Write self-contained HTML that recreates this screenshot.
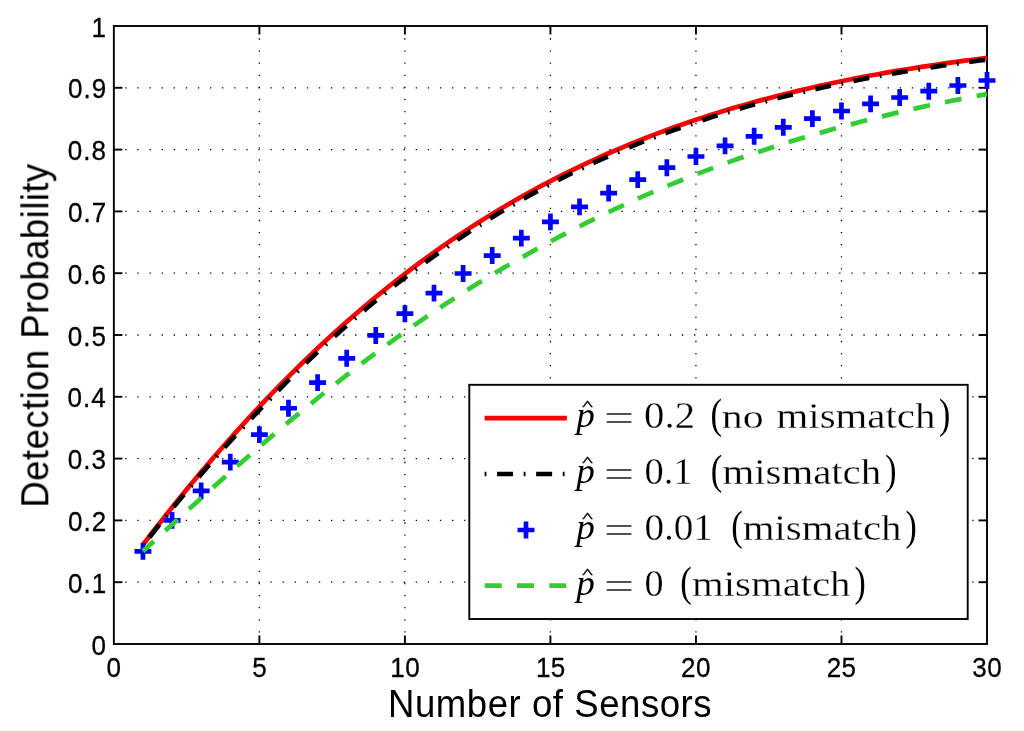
<!DOCTYPE html>
<html lang="en"><head><meta charset="utf-8"><title>Detection Probability vs Number of Sensors</title>
<style>html,body{margin:0;padding:0;background:#fff;}body{width:1024px;height:731px;overflow:hidden;}svg{display:block;}.t{font-family:"Liberation Sans",Arial,Helvetica,sans-serif;fill:#000;}.s{font-family:"Liberation Serif","Times New Roman",serif;fill:#000;}</style></head><body>
<svg width="1024" height="731" viewBox="0 0 1024 731">
<rect x="0" y="0" width="1024" height="731" fill="#fff"/>
<defs><filter id="gs" filterUnits="userSpaceOnUse" x="0" y="0" width="1024" height="731" color-interpolation-filters="sRGB"><feColorMatrix type="saturate" values="0"/></filter></defs>
<g stroke="#000" stroke-width="1.30" stroke-dasharray="1.30 10.80" stroke-dashoffset="0.65" fill="none"><line x1="259.38" y1="26.90" x2="259.38" y2="644.00"/><line x1="404.90" y1="26.90" x2="404.90" y2="644.00"/><line x1="550.42" y1="26.90" x2="550.42" y2="644.00"/><line x1="695.95" y1="26.90" x2="695.95" y2="644.00"/><line x1="841.48" y1="26.90" x2="841.48" y2="644.00"/><line x1="113.85" y1="582.20" x2="987.00" y2="582.20"/><line x1="113.85" y1="520.40" x2="987.00" y2="520.40"/><line x1="113.85" y1="458.60" x2="987.00" y2="458.60"/><line x1="113.85" y1="396.80" x2="987.00" y2="396.80"/><line x1="113.85" y1="335.00" x2="987.00" y2="335.00"/><line x1="113.85" y1="273.20" x2="987.00" y2="273.20"/><line x1="113.85" y1="211.40" x2="987.00" y2="211.40"/><line x1="113.85" y1="149.60" x2="987.00" y2="149.60"/><line x1="113.85" y1="87.80" x2="987.00" y2="87.80"/></g>
<g stroke="#000" stroke-width="1.90" fill="none"><line x1="259.38" y1="644.00" x2="259.38" y2="635.50"/><line x1="259.38" y1="26.00" x2="259.38" y2="34.50"/><line x1="404.90" y1="644.00" x2="404.90" y2="635.50"/><line x1="404.90" y1="26.00" x2="404.90" y2="34.50"/><line x1="550.42" y1="644.00" x2="550.42" y2="635.50"/><line x1="550.42" y1="26.00" x2="550.42" y2="34.50"/><line x1="695.95" y1="644.00" x2="695.95" y2="635.50"/><line x1="695.95" y1="26.00" x2="695.95" y2="34.50"/><line x1="841.48" y1="644.00" x2="841.48" y2="635.50"/><line x1="841.48" y1="26.00" x2="841.48" y2="34.50"/><line x1="113.85" y1="582.20" x2="122.35" y2="582.20"/><line x1="987.00" y1="582.20" x2="978.50" y2="582.20"/><line x1="113.85" y1="520.40" x2="122.35" y2="520.40"/><line x1="987.00" y1="520.40" x2="978.50" y2="520.40"/><line x1="113.85" y1="458.60" x2="122.35" y2="458.60"/><line x1="987.00" y1="458.60" x2="978.50" y2="458.60"/><line x1="113.85" y1="396.80" x2="122.35" y2="396.80"/><line x1="987.00" y1="396.80" x2="978.50" y2="396.80"/><line x1="113.85" y1="335.00" x2="122.35" y2="335.00"/><line x1="987.00" y1="335.00" x2="978.50" y2="335.00"/><line x1="113.85" y1="273.20" x2="122.35" y2="273.20"/><line x1="987.00" y1="273.20" x2="978.50" y2="273.20"/><line x1="113.85" y1="211.40" x2="122.35" y2="211.40"/><line x1="987.00" y1="211.40" x2="978.50" y2="211.40"/><line x1="113.85" y1="149.60" x2="122.35" y2="149.60"/><line x1="987.00" y1="149.60" x2="978.50" y2="149.60"/><line x1="113.85" y1="87.80" x2="122.35" y2="87.80"/><line x1="987.00" y1="87.80" x2="978.50" y2="87.80"/></g>
<rect x="113.85" y="26.00" width="873.15" height="618.00" fill="none" stroke="#000" stroke-width="1.90"/>
<path d="M142.95 544.71 L150.23 535.25 L157.51 525.90 L164.78 516.66 L172.06 507.53 L179.34 498.50 L186.61 489.59 L193.89 480.79 L201.16 472.09 L208.44 463.52 L215.72 455.05 L222.99 446.69 L230.27 438.45 L237.55 430.32 L244.82 422.30 L252.10 414.40 L259.38 406.61 L266.65 398.93 L273.93 391.36 L281.20 383.90 L288.48 376.56 L295.76 369.33 L303.03 362.21 L310.31 355.20 L317.59 348.30 L324.86 341.51 L332.14 334.83 L339.41 328.25 L346.69 321.79 L353.97 315.43 L361.24 309.18 L368.52 303.03 L375.79 296.99 L383.07 291.06 L390.35 285.22 L397.62 279.49 L404.90 273.86 L412.18 268.34 L419.45 262.91 L426.73 257.58 L434.00 252.34 L441.28 247.21 L448.56 242.17 L455.83 237.22 L463.11 232.37 L470.39 227.61 L477.66 222.94 L484.94 218.37 L492.21 213.88 L499.49 209.48 L506.77 205.17 L514.04 200.94 L521.32 196.80 L528.60 192.74 L535.87 188.76 L543.15 184.86 L550.42 181.05 L557.70 177.31 L564.98 173.65 L572.25 170.07 L579.53 166.57 L586.81 163.13 L594.08 159.78 L601.36 156.49 L608.63 153.27 L615.91 150.13 L623.19 147.05 L630.46 144.04 L637.74 141.09 L645.02 138.21 L652.29 135.40 L659.57 132.65 L666.85 129.96 L674.12 127.33 L681.40 124.76 L688.67 122.25 L695.95 119.79 L703.23 117.40 L710.50 115.05 L717.78 112.77 L725.05 110.53 L732.33 108.35 L739.61 106.22 L746.88 104.14 L754.16 102.11 L761.44 100.13 L768.71 98.19 L775.99 96.30 L783.27 94.46 L790.54 92.66 L797.82 90.90 L805.09 89.19 L812.37 87.52 L819.65 85.89 L826.92 84.30 L834.20 82.75 L841.48 81.24 L848.75 79.77 L856.03 78.33 L863.30 76.93 L870.58 75.56 L877.86 74.23 L885.13 72.93 L892.41 71.67 L899.68 70.43 L906.96 69.23 L914.24 68.06 L921.51 66.92 L928.79 65.81 L936.07 64.72 L943.34 63.67 L950.62 62.64 L957.89 61.64 L965.17 60.66 L972.45 59.71 L979.72 58.79 L987.00 57.89" fill="none" stroke="#f00" stroke-width="4.70" stroke-linejoin="round"/>
<path d="M142.95 545.64 L150.23 536.29 L157.51 527.06 L164.78 517.95 L172.06 508.95 L179.34 500.07 L186.61 491.30 L193.89 482.66 L201.16 474.13 L208.44 465.71 L215.72 457.40 L222.99 449.21 L230.27 441.16 L237.55 433.23 L244.82 425.40 L252.10 417.67 L259.38 410.03 L266.65 402.46 L273.93 394.94 L281.20 387.51 L288.48 380.19 L295.76 372.97 L303.03 365.87 L310.31 358.87 L317.59 351.99 L324.86 345.21 L332.14 338.54 L339.41 331.98 L346.69 325.52 L353.97 319.17 L361.24 312.93 L368.52 306.79 L375.79 300.76 L383.07 294.82 L390.35 288.99 L397.62 283.26 L404.90 277.63 L412.18 272.10 L419.45 266.66 L426.73 261.31 L434.00 256.05 L441.28 250.89 L448.56 245.81 L455.83 240.83 L463.11 235.93 L470.39 231.13 L477.66 226.41 L484.94 221.79 L492.21 217.25 L499.49 212.80 L506.77 208.43 L514.04 204.16 L521.32 199.97 L528.60 195.87 L535.87 191.85 L543.15 187.92 L550.42 184.08 L557.70 180.31 L564.98 176.63 L572.25 173.02 L579.53 169.49 L586.81 166.04 L594.08 162.66 L601.36 159.35 L608.63 156.11 L615.91 152.94 L623.19 149.85 L630.46 146.82 L637.74 143.85 L645.02 140.95 L652.29 138.12 L659.57 135.35 L666.85 132.64 L674.12 129.99 L681.40 127.40 L688.67 124.86 L695.95 122.39 L703.23 119.97 L710.50 117.61 L717.78 115.30 L725.05 113.04 L732.33 110.84 L739.61 108.69 L746.88 106.58 L754.16 104.53 L761.44 102.53 L768.71 100.57 L775.99 98.66 L783.27 96.80 L790.54 94.97 L797.82 93.20 L805.09 91.46 L812.37 89.77 L819.65 88.12 L826.92 86.51 L834.20 84.94 L841.48 83.40 L848.75 81.91 L856.03 80.45 L863.30 79.03 L870.58 77.64 L877.86 76.28 L885.13 74.96 L892.41 73.68 L899.68 72.42 L906.96 71.20 L914.24 70.01 L921.51 68.84 L928.79 67.71 L936.07 66.60 L943.34 65.53 L950.62 64.48 L957.89 63.46 L965.17 62.46 L972.45 61.49 L979.72 60.54 L987.00 59.62" fill="none" stroke="#000" stroke-width="4.70" stroke-dasharray="1.8 10.65 16 10.63" stroke-dashoffset="2" stroke-linejoin="round"/>
<g stroke="#00f" stroke-width="4.70" fill="none"><path d="M134.50 551.30H151.40M142.95 542.85V559.75"/><path d="M163.61 520.40H180.51M172.06 511.95V528.85"/><path d="M192.72 490.92H209.61M201.16 482.47V499.37"/><path d="M221.82 462.12H238.72M230.27 453.67V470.57"/><path d="M250.93 434.62H267.82M259.38 426.17V443.07"/><path d="M280.03 408.23H296.93M288.48 399.78V416.68"/><path d="M309.14 382.59H326.04M317.59 374.14V391.04"/><path d="M338.24 358.30H355.14M346.69 349.85V366.75"/><path d="M367.34 335.43H384.24M375.79 326.98V343.88"/><path d="M396.45 313.68H413.35M404.90 305.23V322.13"/><path d="M425.56 293.10H442.45M434.00 284.65V301.55"/><path d="M454.66 273.51H471.56M463.11 265.06V281.96"/><path d="M483.76 255.53H500.66M492.21 247.08V263.98"/><path d="M512.87 238.10H529.77M521.32 229.65V246.55"/><path d="M541.97 221.91H558.88M550.42 213.46V230.36"/><path d="M571.08 206.83H587.98M579.53 198.38V215.28"/><path d="M600.18 193.11H617.09M608.63 184.66V201.56"/><path d="M629.29 179.63H646.19M637.74 171.18V188.08"/><path d="M658.39 167.71H675.30M666.85 159.26V176.16"/><path d="M687.50 156.52H704.40M695.95 148.07V164.97"/><path d="M716.60 145.89H733.50M725.05 137.44V154.34"/><path d="M745.71 136.31H762.61M754.16 127.86V144.76"/><path d="M774.82 127.29H791.72M783.27 118.84V135.74"/><path d="M803.92 118.58H820.82M812.37 110.13V127.03"/><path d="M833.02 110.98H849.93M841.48 102.53V119.43"/><path d="M862.13 103.87H879.03M870.58 95.42V112.32"/><path d="M891.23 97.50H908.13M899.68 89.05V105.95"/><path d="M920.34 91.20H937.24M928.79 82.75V99.65"/><path d="M949.44 85.51H966.35M957.89 77.06V93.96"/><path d="M978.55 80.51H995.45M987.00 72.06V88.96"/></g>
<path d="M142.95 551.27 L150.23 544.56 L157.51 537.87 L164.78 531.20 L172.06 524.54 L179.34 517.90 L186.61 511.29 L193.89 504.70 L201.16 498.13 L208.44 491.60 L215.72 485.09 L222.99 478.62 L230.27 472.19 L237.55 465.78 L244.82 459.42 L252.10 453.10 L259.38 446.82 L266.65 440.58 L273.93 434.39 L281.20 428.24 L288.48 422.14 L295.76 416.09 L303.03 410.08 L310.31 404.13 L317.59 398.23 L324.86 392.39 L332.14 386.60 L339.41 380.86 L346.69 375.18 L353.97 369.55 L361.24 363.98 L368.52 358.47 L375.79 353.02 L383.07 347.63 L390.35 342.30 L397.62 337.03 L404.90 331.81 L412.18 326.67 L419.45 321.60 L426.73 316.60 L434.00 311.67 L441.28 306.81 L448.56 302.02 L455.83 297.30 L463.11 292.65 L470.39 288.06 L477.66 283.54 L484.94 279.08 L492.21 274.68 L499.49 270.34 L506.77 266.07 L514.04 261.85 L521.32 257.68 L528.60 253.58 L535.87 249.52 L543.15 245.52 L550.42 241.57 L557.70 237.68 L564.98 233.84 L572.25 230.07 L579.53 226.35 L586.81 222.69 L594.08 219.09 L601.36 215.55 L608.63 212.06 L615.91 208.63 L623.19 205.26 L630.46 201.94 L637.74 198.68 L645.02 195.47 L652.29 192.31 L659.57 189.21 L666.85 186.15 L674.12 183.15 L681.40 180.20 L688.67 177.30 L695.95 174.45 L703.23 171.65 L710.50 168.90 L717.78 166.19 L725.05 163.53 L732.33 160.91 L739.61 158.34 L746.88 155.82 L754.16 153.34 L761.44 150.90 L768.71 148.51 L775.99 146.16 L783.27 143.85 L790.54 141.59 L797.82 139.36 L805.09 137.18 L812.37 135.04 L819.65 132.94 L826.92 130.87 L834.20 128.85 L841.48 126.87 L848.75 124.91 L856.03 122.99 L863.30 121.10 L870.58 119.24 L877.86 117.41 L885.13 115.61 L892.41 113.85 L899.68 112.12 L906.96 110.43 L914.24 108.77 L921.51 107.15 L928.79 105.57 L936.07 104.03 L943.34 102.52 L950.62 101.04 L957.89 99.59 L965.17 98.17 L972.45 96.79 L979.72 95.43 L987.00 94.10" fill="none" stroke="#33cc33" stroke-width="4.70" stroke-dasharray="16.9 15.35" stroke-dashoffset="2" stroke-linejoin="round"/>
<g filter="url(#gs)">
<text class="t" transform="translate(91.49 654.50) scale(0.9300 1.0000)" font-size="28.00" letter-spacing="1.120" stroke="#000" stroke-width="0.3">0</text>
<text class="t" transform="translate(67.92 592.70) scale(0.9300 1.0000)" font-size="28.00" letter-spacing="1.120" stroke="#000" stroke-width="0.3">0.1</text>
<text class="t" transform="translate(67.92 530.90) scale(0.9300 1.0000)" font-size="28.00" letter-spacing="1.120" stroke="#000" stroke-width="0.3">0.2</text>
<text class="t" transform="translate(67.79 469.10) scale(0.9300 1.0000)" font-size="28.00" letter-spacing="1.120" stroke="#000" stroke-width="0.3">0.3</text>
<text class="t" transform="translate(67.40 407.30) scale(0.9300 1.0000)" font-size="28.00" letter-spacing="1.120" stroke="#000" stroke-width="0.3">0.4</text>
<text class="t" transform="translate(67.66 345.50) scale(0.9300 1.0000)" font-size="28.00" letter-spacing="1.120" stroke="#000" stroke-width="0.3">0.5</text>
<text class="t" transform="translate(67.79 283.70) scale(0.9300 1.0000)" font-size="28.00" letter-spacing="1.120" stroke="#000" stroke-width="0.3">0.6</text>
<text class="t" transform="translate(67.92 221.90) scale(0.9300 1.0000)" font-size="28.00" letter-spacing="1.120" stroke="#000" stroke-width="0.3">0.7</text>
<text class="t" transform="translate(67.79 160.10) scale(0.9300 1.0000)" font-size="28.00" letter-spacing="1.120" stroke="#000" stroke-width="0.3">0.8</text>
<text class="t" transform="translate(67.92 98.30) scale(0.9300 1.0000)" font-size="28.00" letter-spacing="1.120" stroke="#000" stroke-width="0.3">0.9</text>
<text class="t" transform="translate(91.55 36.50) scale(0.9300 1.0000)" font-size="28.00" letter-spacing="1.120" stroke="#000" stroke-width="0.3">1</text>
<text class="t" transform="translate(106.62 677.20) scale(0.9300 1.0000)" font-size="28.00" letter-spacing="0.420" stroke="#000" stroke-width="0.3">0</text>
<text class="t" transform="translate(252.15 677.20) scale(0.9300 1.0000)" font-size="28.00" letter-spacing="0.420" stroke="#000" stroke-width="0.3">5</text>
<text class="t" transform="translate(390.33 677.20) scale(0.9300 1.0000)" font-size="28.00" letter-spacing="0.420" stroke="#000" stroke-width="0.3">10</text>
<text class="t" transform="translate(535.92 677.20) scale(0.9300 1.0000)" font-size="28.00" letter-spacing="0.420" stroke="#000" stroke-width="0.3">15</text>
<text class="t" transform="translate(681.11 677.20) scale(0.9300 1.0000)" font-size="28.00" letter-spacing="0.420" stroke="#000" stroke-width="0.3">20</text>
<text class="t" transform="translate(826.70 677.20) scale(0.9300 1.0000)" font-size="28.00" letter-spacing="0.420" stroke="#000" stroke-width="0.3">25</text>
<text class="t" transform="translate(972.29 677.20) scale(0.9300 1.0000)" font-size="28.00" letter-spacing="0.420" stroke="#000" stroke-width="0.3">30</text>
<text class="t" transform="translate(387.97 716.50) scale(0.9550 1.0000)" font-size="38.30" letter-spacing="0.563">Number of Sensors</text>
<text class="t" transform="translate(48.30 507.63) rotate(-90) scale(0.9550 1)" font-size="38.30" letter-spacing="0.445">Detection Probability</text>
</g>
<rect x="469.30" y="384.80" width="498.40" height="234.20" fill="#fff" stroke="#000" stroke-width="1.90"/>
<path d="M484.6 418.20H566.9" stroke="#f00" stroke-width="4.70" fill="none"/>
<path d="M484.6 474.00H566.9" stroke="#000" stroke-width="4.70" stroke-dasharray="1.8 10.65 16 10.63" fill="none"/>
<path d="M517.55 530.00H534.45M526.00 521.55V538.45" stroke="#00f" stroke-width="4.70" fill="none"/>
<path d="M484.7 585.70H566.9" stroke="#33cc33" stroke-width="4.70" stroke-dasharray="17 15.3" fill="none"/>
<g filter="url(#gs)">
<text class="s" transform="translate(576.33 427.30) scale(1.0325 1.0000)" font-size="36.00" font-style="italic">p</text>
<text class="s" transform="translate(582.26 409.40) scale(0.9783 0.5200)" font-size="23.00" stroke="#000" stroke-width="0.6">^</text>
<text class="s" transform="translate(603.55 431.60) scale(1.3594 1.0000)" font-size="40.50" stroke="#fff" stroke-width="0.55">=</text>
<text class="s" transform="translate(644.07 428.00) scale(1.0874 1.0300)" font-size="37.50" stroke="#fff" stroke-width="0.3">0.2</text>
<text class="s" transform="translate(710.45 427.90) scale(0.9203 1.1300)" font-size="37.50">(</text>
<text class="s" transform="translate(721.75 428.00) scale(1.1180 0.9200)" font-size="37.50" stroke="#fff" stroke-width="0.3">no</text>
<text class="s" transform="translate(776.58 428.00) scale(1.0895 0.9500)" font-size="37.50" stroke="#fff" stroke-width="0.3">mismatch</text>
<text class="s" transform="translate(938.98 427.90) scale(0.9026 1.1300)" font-size="37.50">)</text>
<text class="s" transform="translate(576.33 483.30) scale(1.0325 1.0000)" font-size="36.00" font-style="italic">p</text>
<text class="s" transform="translate(582.26 465.40) scale(0.9783 0.5200)" font-size="23.00" stroke="#000" stroke-width="0.6">^</text>
<text class="s" transform="translate(603.55 487.60) scale(1.3594 1.0000)" font-size="40.50" stroke="#fff" stroke-width="0.55">=</text>
<text class="s" transform="translate(644.46 484.00) scale(1.0249 1.0300)" font-size="37.50" stroke="#fff" stroke-width="0.3">0.1</text>
<text class="s" transform="translate(710.75 483.90) scale(0.9203 1.1300)" font-size="37.50">(</text>
<text class="s" transform="translate(722.38 484.00) scale(1.0895 0.9500)" font-size="37.50" stroke="#fff" stroke-width="0.3">mismatch</text>
<text class="s" transform="translate(885.28 483.90) scale(0.9026 1.1300)" font-size="37.50">)</text>
<text class="s" transform="translate(576.33 539.30) scale(1.0325 1.0000)" font-size="36.00" font-style="italic">p</text>
<text class="s" transform="translate(582.26 521.40) scale(0.9783 0.5200)" font-size="23.00" stroke="#000" stroke-width="0.6">^</text>
<text class="s" transform="translate(603.55 543.60) scale(1.3594 1.0000)" font-size="40.50" stroke="#fff" stroke-width="0.55">=</text>
<text class="s" transform="translate(644.43 540.00) scale(1.0440 1.0300)" font-size="37.50" stroke="#fff" stroke-width="0.3">0.01</text>
<text class="s" transform="translate(731.15 539.90) scale(0.9203 1.1300)" font-size="37.50">(</text>
<text class="s" transform="translate(742.68 540.00) scale(1.0895 0.9500)" font-size="37.50" stroke="#fff" stroke-width="0.3">mismatch</text>
<text class="s" transform="translate(905.48 539.90) scale(0.9026 1.1300)" font-size="37.50">)</text>
<text class="s" transform="translate(576.33 595.30) scale(1.0325 1.0000)" font-size="36.00" font-style="italic">p</text>
<text class="s" transform="translate(582.26 577.40) scale(0.9783 0.5200)" font-size="23.00" stroke="#000" stroke-width="0.6">^</text>
<text class="s" transform="translate(603.55 599.60) scale(1.3594 1.0000)" font-size="40.50" stroke="#fff" stroke-width="0.55">=</text>
<text class="s" transform="translate(644.48 596.00) scale(1.0159 1.0300)" font-size="37.50" stroke="#fff" stroke-width="0.3">0</text>
<text class="s" transform="translate(680.25 595.90) scale(0.9203 1.1300)" font-size="37.50">(</text>
<text class="s" transform="translate(692.08 596.00) scale(1.0867 0.9500)" font-size="37.50" stroke="#fff" stroke-width="0.3">mismatch</text>
<text class="s" transform="translate(854.58 595.90) scale(0.9026 1.1300)" font-size="37.50">)</text>
</g>
</svg></body></html>
